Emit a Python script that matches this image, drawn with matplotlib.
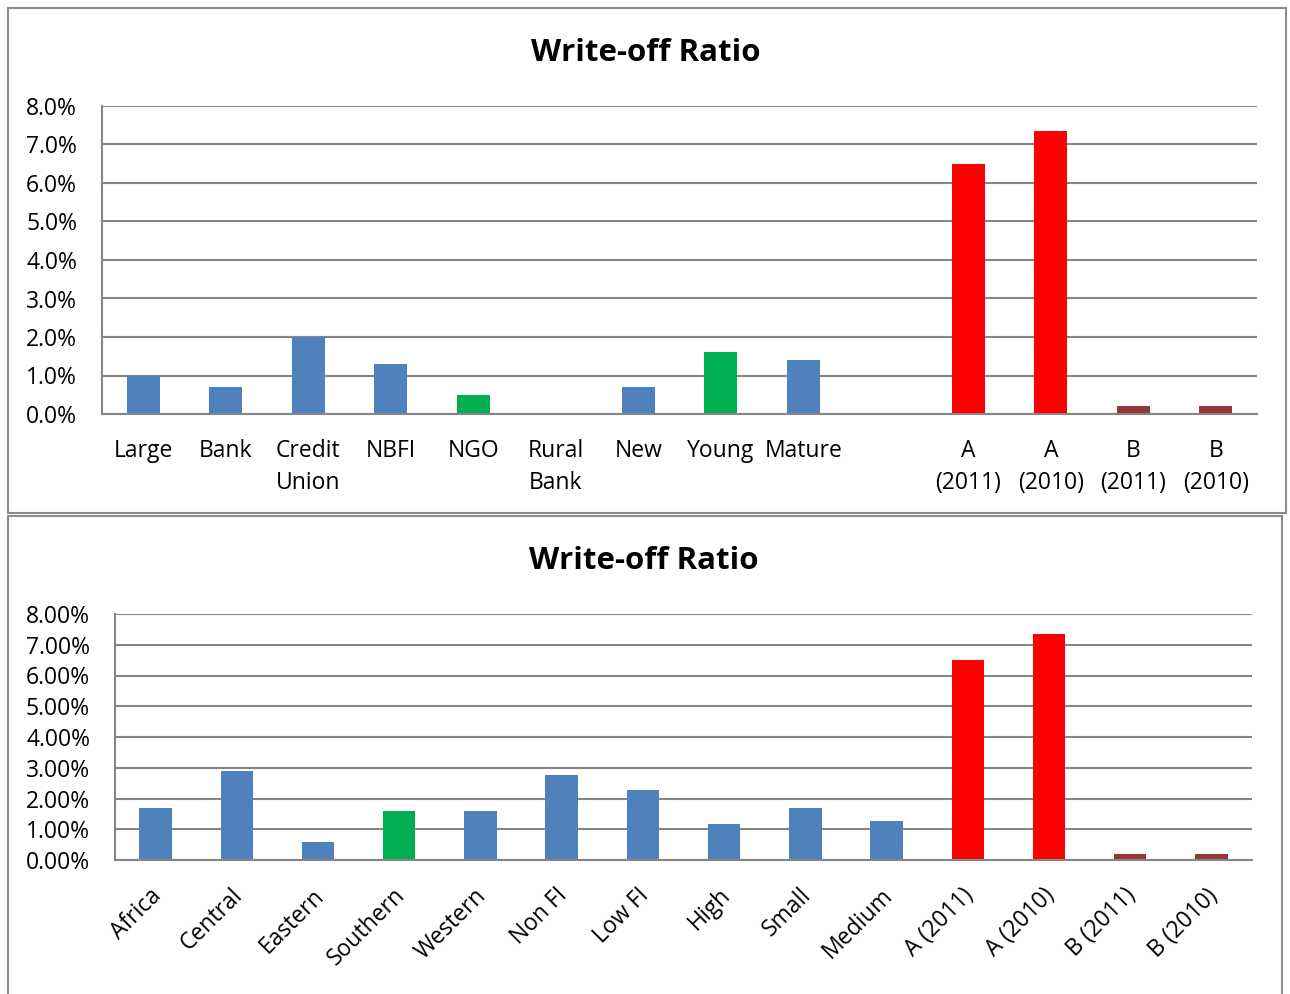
import numpy as np
import matplotlib.pyplot as plt
from matplotlib.patches import Rectangle
from matplotlib.ticker import FuncFormatter
import matplotlib.transforms as mtransforms

plt.rcParams['font.family'] = ['Open Sans', 'DejaVu Sans']

# Upper chart: institution type / age groups, then peers A and B
top_labels = ["Large", "Bank", "Credit\nUnion", "NBFI", "NGO", "Rural\nBank", "New",
              "Young", "Mature", "", "A\n(2011)", "A\n(2010)", "B\n(2011)", "B\n(2010)"]
top_values = [1.0, 0.7, 2.0, 1.3, 0.5, 0.0, 0.7, 1.6, 1.4, np.nan, 6.5, 7.35, 0.2, 0.2]
top_groups = ["base", "base", "base", "base", "hi", "base", "base",
              "hi", "base", "base", "peerA", "peerA", "peerB", "peerB"]

# Lower chart: regions, outreach and size groups, then peers A and B
bot_labels = ["Africa", "Central", "Eastern", "Southern", "Western", "Non FI", "Low FI",
              "High", "Small", "Medium", "A (2011)", "A (2010)", "B (2011)", "B (2010)"]
bot_values = [1.69, 2.89, 0.59, 1.59, 1.6, 2.77, 2.28, 1.18, 1.69, 1.27, 6.5, 7.35, 0.2, 0.2]
bot_groups = ["base", "base", "base", "hi", "base", "base", "base",
              "base", "base", "base", "peerA", "peerA", "peerB", "peerB"]

colors = {"base": "#4F81BD", "hi": "#00B050", "peerA": "#FF0000", "peerB": "#953735"}
grid_col = "#868686"

W, H = 1290, 994
fig = plt.figure(figsize=(W / 100, H / 100), dpi=100)


def px_axes(x0, y0, x1, y1):
    return fig.add_axes([x0 / W, 1 - y1 / H, (x1 - x0) / W, (y1 - y0) / H])


# chart frames
fig.patches.append(Rectangle((8 / W, 1 - 513 / H), 1278 / W, 505 / H, transform=fig.transFigure,
                             fill=False, edgecolor="#8C8C8C", linewidth=1.5))
fig.patches.append(Rectangle((8 / W, 1 - 1000 / H), 1274 / W, 484 / H, transform=fig.transFigure,
                             fill=False, edgecolor="#8C8C8C", linewidth=1.5))


def draw(ax, labels, values, groups, fmt, rotate):
    x = np.arange(len(labels))
    ax.bar(x, values, width=0.4, color=[colors[g] for g in groups], zorder=3)
    ax.set_xlim(-0.5, len(labels) - 0.5)
    ax.set_ylim(0, 8)
    ax.set_yticks(np.arange(0, 9, 1))
    ax.yaxis.set_major_formatter(FuncFormatter(lambda v, p: fmt.format(v)))
    ax.grid(axis="y", color=grid_col, linewidth=1.5, zorder=0)
    for s in ["top", "right"]:
        ax.spines[s].set_visible(False)
    for s in ["left", "bottom"]:
        ax.spines[s].set_color(grid_col)
        ax.spines[s].set_linewidth(1.5)
    ax.spines["bottom"].set_zorder(4)
    ax.tick_params(axis="both", length=0, labelsize=16.5, colors="black")
    ax.tick_params(axis="y", pad=18)
    ax.set_xticks(x)
    if rotate:
        ax.set_xticklabels(labels, rotation=45, ha="right", rotation_mode="anchor")
        ax.tick_params(axis="x", pad=17)
        off = mtransforms.ScaledTranslation(-6 / 100, 0, fig.dpi_scale_trans)
        for t in ax.get_xticklabels():
            t.set_transform(t.get_transform() + off)
    else:
        ax.set_xticklabels(labels, linespacing=1.45)
        ax.tick_params(axis="x", pad=18)


ax1 = px_axes(102, 106, 1257, 414)
draw(ax1, top_labels, top_values, top_groups, "{:.1f}%", False)
fig.text(646 / W, 1 - 53 / H, "Write-off Ratio", ha="center", va="center",
         fontsize=22.5, fontweight="bold")

ax2 = px_axes(115, 614, 1252, 860)
draw(ax2, bot_labels, bot_values, bot_groups, "{:.2f}%", True)
fig.text(644 / W, 1 - 561 / H, "Write-off Ratio", ha="center", va="center",
         fontsize=22.5, fontweight="bold")

fig.savefig("out.png", dpi=100)
